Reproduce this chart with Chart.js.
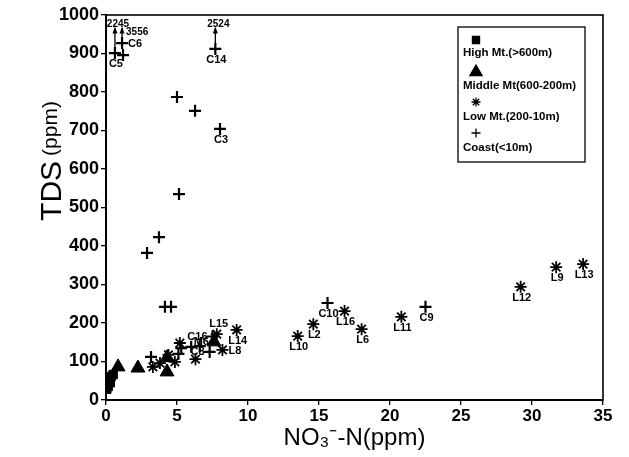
<!DOCTYPE html>
<html><head><meta charset="utf-8">
<script src="https://cdn.jsdelivr.net/npm/chart.js@4/dist/chart.umd.min.js"></script>
<style>html,body{margin:0;padding:0;background:#fff;}#wrap{width:629px;height:457px;position:relative;}</style>
</head><body><div id="wrap"><canvas id="c" width="629" height="457"></canvas></div>
<script>
// ---- data ----
const seriesNames = ['High Mt.(>600m)', 'Middle Mt(600-200m)', 'Low Mt.(200-10m)', 'Coast(<10m)'];

const highX = [0.05, 0.1, 0.15, 0.2, 0.3, 0.35, 0.5];
const highY = [28, 40, 35, 50, 45, 60, 66];

const midX = [0.85, 2.25, 4.3, 4.3, 7.6];
const midY = [86, 83, 73, 110, 151];
const midLabels = ['', '', '', '', 'M6'];

const lowX = [33.6, 31.7, 29.2, 20.8, 18.0, 16.8, 14.6, 13.5, 9.2, 7.8, 8.2, 6.3, 5.2, 4.85, 3.3, 3.8, 4.4];
const lowY = [353, 345, 294, 216, 184, 231, 197, 166, 182, 171, 130, 106, 148, 99, 86, 96, 117];
const lowLabels = ['L13', 'L9', 'L12', 'L11', 'L6', 'L16', 'L2', 'L10', 'L14', 'L15', 'L8', '', '', '', '', '', ''];

const coastX = [0.63, 1.2, 1.13, 7.7, 5.0, 6.27, 8.03, 5.14, 3.73, 2.89, 4.15, 4.58, 15.6, 22.5, 3.17, 7.5, 7.3, 5.3, 6.0, 6.6, 5.1];
const coastY = [901, 896, 927, 912, 787, 751, 704, 535, 423, 382, 242, 242, 252, 242, 112, 165, 125, 135, 138, 140, 120];
const coastLabels = ['C5', '', 'C6', 'C14', '', '', 'C3', '', '', '', '', '', 'C10', 'C9', '', 'C16', 'C8', '', '', '', ''];

// off-scale stations (plotted at the top, true value written above the arrow)
const offScaleStations = ['C5', 'C6', 'C14'];
const offScaleValues = [2245, 3556, 2524];

const xTicks = [0, 5, 10, 15, 20, 25, 30, 35];
const yTicks = [0, 100, 200, 300, 400, 500, 600, 700, 800, 900, 1000];

// ---- styling (not data) ----
const FONT = '"Liberation Sans", Arial, Helvetica, sans-serif';
const labelPlacement = { C6: 'right', L15: 'above', L8: 'right', C16: 'left', C8: 'left', M6: 'left' };
const offScaleTextPos = { C6: 'right' };

function pts(xs, ys, ls) { return xs.map((x, i) => ({ x: x, y: ys[i], label: ls ? ls[i] : '' })); }

const pointStyles = [
  { pointStyle: 'rect', radius: 6, borderWidth: 1 },
  { pointStyle: 'triangle', radius: 8, borderWidth: 1 },
  { pointStyle: 'star', radius: 6, borderWidth: 1.8 },
  { pointStyle: 'cross', radius: 6, borderWidth: 2.2 }
];
const allData = [pts(highX, highY), pts(midX, midY, midLabels), pts(lowX, lowY, lowLabels), pts(coastX, coastY, coastLabels)];

const datasets = allData.map((d, i) => ({
  label: seriesNames[i],
  data: d,
  showLine: false,
  pointStyle: pointStyles[i].pointStyle,
  pointRadius: pointStyles[i].radius,
  pointBorderWidth: pointStyles[i].borderWidth,
  pointBackgroundColor: '#000',
  pointBorderColor: '#000'
}));

const decor = {
  id: 'decor',
  afterDatasetsDraw(chart) {
    const ctx = chart.ctx, a = chart.chartArea;
    const xs = chart.scales.x, ys = chart.scales.y;
    ctx.save();
    // frame
    ctx.strokeStyle = '#000'; ctx.lineWidth = 1.6;
    ctx.strokeRect(a.left, a.top, a.right - a.left, a.bottom - a.top);

    // point labels
    ctx.fillStyle = '#000';
    ctx.font = 'bold 11px ' + FONT;
    chart.data.datasets.forEach(ds => {
      ds.data.forEach(p => {
        if (!p.label) return;
        const px = xs.getPixelForValue(p.x), py = ys.getPixelForValue(p.y);
        const pl = labelPlacement[p.label] || 'below';
        ctx.textBaseline = 'middle';
        if (pl === 'below') { ctx.textAlign = 'center'; ctx.fillText(p.label, px + 1, py + 11); }
        else if (pl === 'above') { ctx.textAlign = 'center'; ctx.fillText(p.label, px + 2, py - 10); }
        else if (pl === 'right') { ctx.textAlign = 'left'; ctx.fillText(p.label, px + 6, py + 1); }
        else { ctx.textAlign = 'right'; ctx.fillText(p.label, px - 5, py); }
      });
    });

    // off-scale arrows
    const coast = chart.data.datasets[3].data;
    ctx.lineWidth = 1.3;
    ctx.font = 'bold 10px ' + FONT;
    offScaleStations.forEach((st, i) => {
      const p = coast.find(q => q.label === st);
      if (!p) return;
      const px = xs.getPixelForValue(p.x), py = ys.getPixelForValue(p.y);
      const topY = ys.getPixelForValue(965);
      ctx.beginPath(); ctx.moveTo(px, py - 5); ctx.lineTo(px, topY); ctx.stroke();
      ctx.beginPath(); ctx.moveTo(px, topY - 2); ctx.lineTo(px - 2.5, topY + 5); ctx.lineTo(px + 2.5, topY + 5); ctx.closePath(); ctx.fill();
      ctx.textBaseline = 'bottom';
      if (offScaleTextPos[st] === 'right') { ctx.textAlign = 'left'; ctx.fillText(String(offScaleValues[i]), px + 4, topY + 9); }
      else { ctx.textAlign = 'center'; ctx.fillText(String(offScaleValues[i]), px + 3, topY + 1); }
    });

    // legend
    const lx = 458, ly = 27, lw = 127, lh = 135;
    ctx.fillStyle = '#fff'; ctx.fillRect(lx, ly, lw, lh);
    ctx.strokeStyle = '#000'; ctx.lineWidth = 1.3; ctx.strokeRect(lx, ly, lw, lh);
    ctx.fillStyle = '#000';
    const legMarkerY = [40, 72, 102, 133];
    const legTextY = [53, 86, 117, 148];
    const legRadius = [5, 7, 4.5, 4.5];
    chart.data.datasets.forEach((ds, i) => {
      Chart.helpers.drawPoint(ctx, { pointStyle: ds.pointStyle, radius: legRadius[i], rotation: 0, borderWidth: ds.pointBorderWidth }, 476, legMarkerY[i]);
      ctx.font = 'bold 11.5px ' + FONT; ctx.textAlign = 'left'; ctx.textBaseline = 'middle';
      ctx.fillText(ds.label, 463, legTextY[i]);
    });

    // y title
    ctx.save();
    ctx.translate(50, 161); ctx.rotate(-Math.PI / 2);
    ctx.font = '30px ' + FONT; const w1 = ctx.measureText('TDS').width;
    ctx.font = '21px ' + FONT; const w2 = ctx.measureText('(ppm)').width;
    const gap = 5, tot = w1 + gap + w2;
    ctx.textAlign = 'left'; ctx.textBaseline = 'alphabetic';
    ctx.font = '30px ' + FONT; ctx.fillText('TDS', -tot / 2, 11);
    ctx.font = '21px ' + FONT; ctx.fillText('(ppm)', -tot / 2 + w1 + gap, 7);
    ctx.restore();
    ctx.restore();
  }
};

new Chart(document.getElementById('c'), {
  type: 'scatter',
  data: { datasets: datasets },
  options: {
    responsive: false, animation: false, devicePixelRatio: 1,
    layout: { padding: { top: 15, right: 26, left: 0, bottom: 0 } },
    plugins: { legend: { display: false }, tooltip: { enabled: false } },
    scales: {
      x: {
        type: 'linear', min: 0, max: 35,
        afterBuildTicks: s => { s.ticks = xTicks.map(v => ({ value: v })); },
        afterFit: s => { s.height = 57; },
        ticks: { color: '#000', font: { family: FONT, weight: 'bold', size: 17 }, padding: 1, maxRotation: 0, callback: v => String(v) },
        grid: { drawOnChartArea: false, drawTicks: true, tickLength: 5, color: '#000', lineWidth: 1.3 },
        border: { display: true, color: '#000', width: 2 },
        title: { display: true, text: 'NO₃⁻-N(ppm)', color: '#000', font: { family: FONT, size: 24 }, padding: { top: 0, bottom: 4 } }
      },
      y: {
        type: 'linear', min: 0, max: 1000,
        afterBuildTicks: s => { s.ticks = yTicks.map(v => ({ value: v })); },
        afterFit: s => { s.width = 106; },
        ticks: { color: '#000', font: { family: FONT, weight: 'bold', size: 18 }, padding: 2, callback: v => String(v) },
        grid: { drawOnChartArea: false, drawTicks: true, tickLength: 5, color: '#000', lineWidth: 1.3 },
        border: { display: true, color: '#000', width: 2 }
      }
    }
  },
  plugins: [decor]
});
</script>
</body></html>
